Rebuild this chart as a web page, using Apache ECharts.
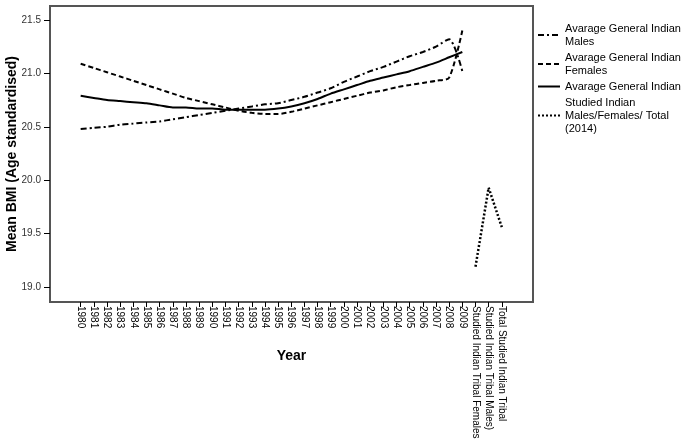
<!DOCTYPE html>
<html>
<head>
<meta charset="utf-8">
<script src="https://cdn.jsdelivr.net/npm/echarts@6/dist/echarts.min.js"></script>
<style>html,body{margin:0;padding:0;background:#fff}#c{width:700px;height:442px}</style>
</head>
<body>
<div id="c"></div>
<script>
var categories = ['1980','1981','1982','1983','1984','1985','1986','1987','1988','1989','1990','1991','1992','1993','1994','1995','1996','1997','1998','1999','2000','2001','2002','2003','2004','2005','2006','2007','2008','2009','Studied Indian Tribal Females','Studied Indian Tribal Males)','Total Studied Indian Tribal'];
var males = [20.48,20.49,20.50,20.52,20.53,20.54,20.55,20.57,20.59,20.61,20.63,20.65,20.67,20.69,20.71,20.72,20.75,20.78,20.82,20.86,20.92,20.97,21.02,21.06,21.11,21.16,21.20,21.25,21.32,21.02];
var females = [21.09,21.05,21.01,20.97,20.93,20.89,20.85,20.81,20.77,20.74,20.71,20.68,20.65,20.63,20.62,20.62,20.64,20.67,20.70,20.73,20.76,20.79,20.82,20.84,20.87,20.89,20.91,20.93,20.96,21.40];
var general = [20.79,20.77,20.75,20.74,20.73,20.72,20.70,20.68,20.68,20.67,20.67,20.66,20.66,20.66,20.66,20.67,20.69,20.72,20.76,20.81,20.85,20.89,20.93,20.96,20.99,21.02,21.06,21.10,21.15,21.20];
var studied = [19.19,19.93,19.56];
var studiedStart = 30;
var yTicks = [19.0,19.5,20.0,20.5,21.0,21.5];

function pairs(arr, start){ return arr.map(function(v,i){ return [start+i, v]; }); }
var idx = categories.map(function(c,i){ return i; });

var chart = echarts.init(document.getElementById('c'));
var font = 'Liberation Sans, Arial, sans-serif';
chart.setOption({
  animation:false,
  backgroundColor:'#fff',
  textStyle:{fontFamily:font},
  grid:{left:50,right:167,top:6,bottom:140,show:true,borderColor:'#555',borderWidth:2,containLabel:false,outerBoundsMode:'none'},
  legend:{
    orient:'vertical', left:532, top:17, itemWidth:22, itemHeight:10, itemGap:3,
    itemStyle:{opacity:0},
    textStyle:{fontSize:11,color:'#000',lineHeight:13,fontFamily:font},
    data:[
      {name:'Avarage General Indian\nMales'},
      {name:'Avarage General Indian\nFemales'},
      {name:'Avarage General Indian'},
      {name:'Studied Indian\nMales/Females/ Total\n(2014)'}
    ]
  },
  xAxis:{
    type:'value', min:-2.33, max:34.37,
    name:'Year', nameLocation:'middle', nameGap:47, nameMoveOverlap:false,
    nameTextStyle:{fontSize:14,fontWeight:'bold',color:'#000'},
    axisLine:{show:true,onZero:false,lineStyle:{color:'#555',width:2}},
    axisTick:{show:true,length:5,customValues:idx,lineStyle:{color:'#000',width:1}},
    axisLabel:{customValues:idx,rotate:-90,margin:4,fontSize:10,color:'#000',
      formatter:function(v){ return categories[Math.round(v)] || ''; }},
    splitLine:{show:false}
  },
  yAxis:{
    type:'value', min:18.86, max:21.63,
    name:'Mean BMI (Age standardised)', nameLocation:'middle', nameGap:31, nameMoveOverlap:false,
    nameTextStyle:{fontSize:14,fontWeight:'bold',color:'#000'},
    axisLine:{show:true,onZero:false,lineStyle:{color:'#555',width:2}},
    axisTick:{show:true,length:6,customValues:yTicks,lineStyle:{color:'#000',width:1}},
    axisLabel:{customValues:yTicks,margin:9,fontSize:10,color:'#333',
      formatter:function(v){ return v.toFixed(1); }},
    splitLine:{show:false}
  },
  series:[
    {name:'Avarage General Indian\nMales', type:'line', data:pairs(males,0), symbol:'none', smooth:0.25,
      lineStyle:{color:'#000',width:2,type:[6,3,2,3]}, itemStyle:{color:'#000'}},
    {name:'Avarage General Indian\nFemales', type:'line', data:pairs(females,0), symbol:'none', smooth:0.25,
      lineStyle:{color:'#000',width:2,type:[5,3]}, itemStyle:{color:'#000'}},
    {name:'Avarage General Indian', type:'line', data:pairs(general,0), symbol:'none', smooth:0.25,
      lineStyle:{color:'#000',width:2,type:'solid'}, itemStyle:{color:'#000'}},
    {name:'Studied Indian\nMales/Females/ Total\n(2014)', type:'line', data:pairs(studied,studiedStart), symbol:'none',
      lineStyle:{color:'#000',width:2.5,type:[2,2]}, itemStyle:{color:'#000'}}
  ]
});
</script>
</body>
</html>
